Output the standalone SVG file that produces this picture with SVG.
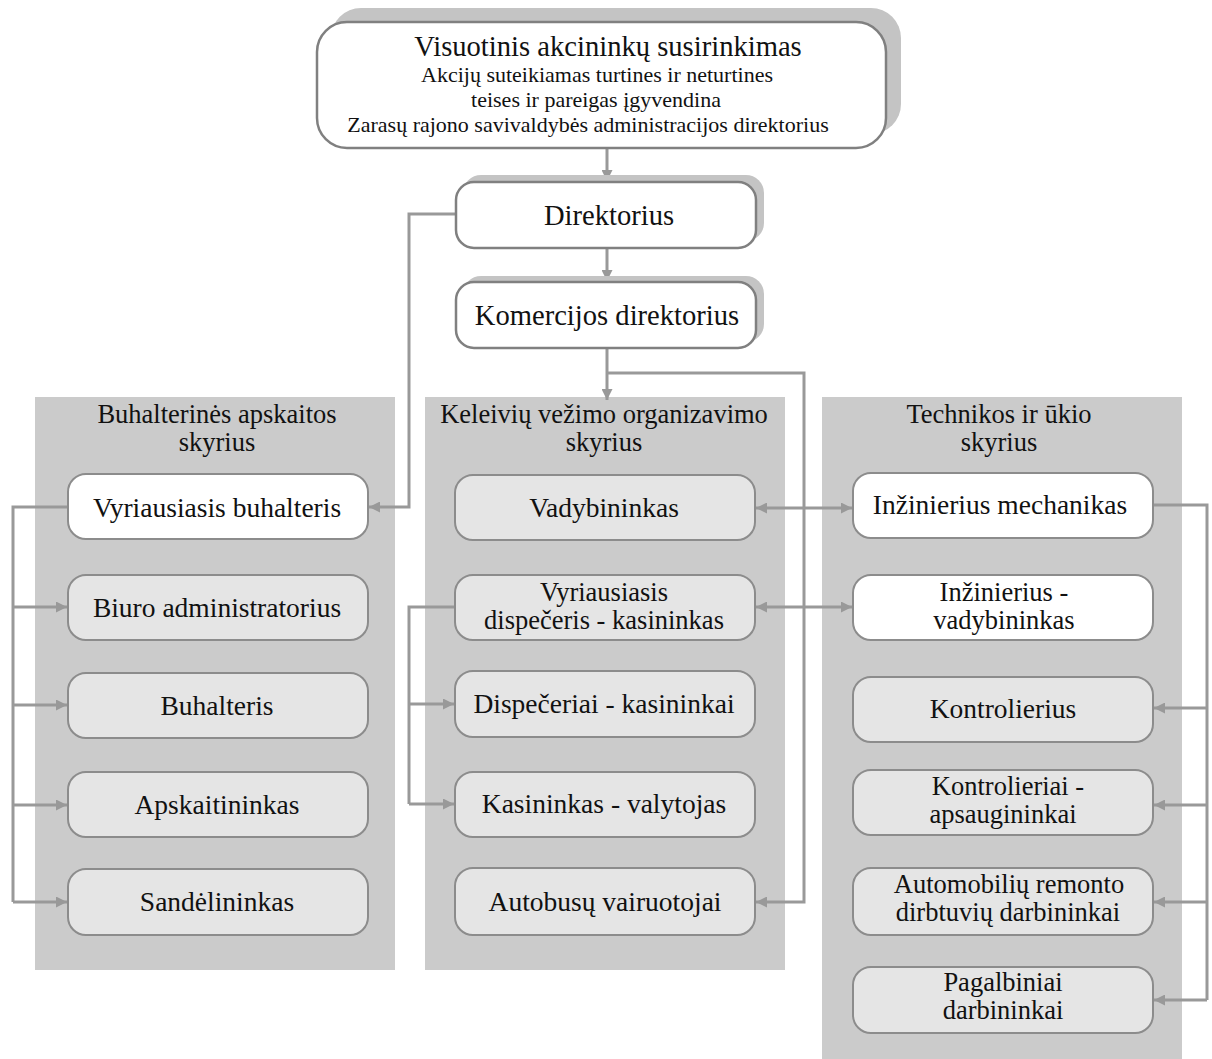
<svg xmlns="http://www.w3.org/2000/svg" width="1212" height="1059" viewBox="0 0 1212 1059">
<style>
text{font-family:"Liberation Serif","Times New Roman",serif;fill:#111;text-anchor:middle}
.t{font-size:27.5px}
.t2{font-size:26.5px}
.big{font-size:28.6px}
.sub{font-size:22px}
.panel{fill:#cbcbcb}
.shadow{fill:#c4c4c4}
.top{fill:#fff;stroke:#808080;stroke-width:2.5}
.w{fill:#fff;stroke:#8c8c8c;stroke-width:2}
.g{fill:#e5e5e5;stroke:#8c8c8c;stroke-width:2}
.c{fill:none;stroke:#999;stroke-width:3}
</style>
<defs>
<marker id="ah" viewBox="0 0 10 10" refX="10" refY="5" markerWidth="11" markerHeight="11" markerUnits="userSpaceOnUse" orient="auto-start-reverse">
<path d="M0,0 L10,5 L0,10 z" fill="#999"/>
</marker>
</defs>
<rect width="1212" height="1059" fill="#fff"/>
<g id="panels">
<g id="panel-buh"><rect class="panel" x="35" y="397" width="360" height="573"/>
<text class="t2"><tspan x="217" y="423">Buhalterinės apskaitos</tspan><tspan x="217" y="451">skyrius</tspan></text></g>
<g id="panel-kel"><rect class="panel" x="425" y="397" width="360" height="573"/>
<text class="t2"><tspan x="604" y="423">Keleivių vežimo organizavimo</tspan><tspan x="604" y="451">skyrius</tspan></text></g>
<g id="panel-tech"><rect class="panel" x="822" y="397" width="360" height="662"/>
<text class="t2"><tspan x="999" y="423">Technikos ir ūkio</tspan><tspan x="999" y="451">skyrius</tspan></text></g>
</g>
<g id="connectors">
<path class="c" d="M607,148 V181" marker-end="url(#ah)"/>
<path class="c" d="M607,248 V281" marker-end="url(#ah)"/>
<path class="c" d="M607,348 V400" marker-end="url(#ah)"/>
<path class="c" d="M607,373 H804 V902 H756" marker-end="url(#ah)"/>
<path class="c" d="M455,214 H409 V507 H369" marker-end="url(#ah)"/>
<path class="c" d="M68,507 H13 V902"/>
<path class="c" d="M13,607 H67" marker-end="url(#ah)"/>
<path class="c" d="M13,705 H67" marker-end="url(#ah)"/>
<path class="c" d="M13,805 H67" marker-end="url(#ah)"/>
<path class="c" d="M13,902 H67" marker-end="url(#ah)"/>
<path class="c" d="M455,607 H409 V804"/>
<path class="c" d="M409,704 H454" marker-end="url(#ah)"/>
<path class="c" d="M409,804 H454" marker-end="url(#ah)"/>
<path class="c" d="M1153,505 H1207 V1000"/>
<path class="c" d="M1207,708 H1154" marker-end="url(#ah)"/>
<path class="c" d="M1207,805 H1154" marker-end="url(#ah)"/>
<path class="c" d="M1207,902 H1154" marker-end="url(#ah)"/>
<path class="c" d="M1207,1000 H1154" marker-end="url(#ah)"/>
<path class="c" d="M756,508 H852" marker-start="url(#ah)" marker-end="url(#ah)"/>
<path class="c" d="M756,607 H852" marker-start="url(#ah)" marker-end="url(#ah)"/>
</g>
<g id="n-visuotinis">
<rect class="shadow" x="331" y="8" width="570" height="126" rx="30"/>
<rect class="top" x="317" y="22" width="569" height="126" rx="30"/>
<text><tspan class="big" x="608" y="56">Visuotinis akcininkų susirinkimas</tspan><tspan class="sub" x="597" y="82">Akcijų suteikiamas turtines ir neturtines</tspan><tspan class="sub" x="596" y="107">teises ir pareigas įgyvendina</tspan><tspan class="sub" x="588" y="132">Zarasų rajono savivaldybės administracijos direktorius</tspan></text>
</g>
<g id="n-direktorius">
<rect class="shadow" x="463" y="175" width="301" height="66" rx="18"/>
<rect class="top" x="456" y="182" width="300" height="66" rx="18"/>
<text class="big" x="609" y="225">Direktorius</text>
</g>
<g id="n-komercijos">
<rect class="shadow" x="463" y="276" width="301" height="66" rx="18"/>
<rect class="top" x="456" y="282" width="300" height="66" rx="18"/>
<text class="big" x="607" y="325">Komercijos direktorius</text>
</g>
<g id="n-vyr-buh"><rect class="w" x="68" y="474" width="300" height="65" rx="18"/><text class="t" x="217" y="517">Vyriausiasis buhalteris</text></g>
<g id="n-biuro"><rect class="g" x="68" y="575" width="300" height="65" rx="18"/><text class="t" x="217" y="617">Biuro administratorius</text></g>
<g id="n-buhalteris"><rect class="g" x="68" y="673" width="300" height="65" rx="18"/><text class="t" x="217" y="715">Buhalteris</text></g>
<g id="n-apskait"><rect class="g" x="68" y="772" width="300" height="65" rx="18"/><text class="t" x="217" y="814">Apskaitininkas</text></g>
<g id="n-sandel"><rect class="g" x="68" y="869" width="300" height="66" rx="18"/><text class="t" x="217" y="911">Sandėlininkas</text></g>
<g id="n-vadyb"><rect class="g" x="455" y="475" width="300" height="65" rx="18"/><text class="t" x="604" y="517">Vadybininkas</text></g>
<g id="n-vyr-disp"><rect class="g" x="455" y="575" width="300" height="65" rx="18"/><text class="t2"><tspan x="604" y="601">Vyriausiasis</tspan><tspan x="604" y="629">dispečeris - kasininkas</tspan></text></g>
<g id="n-disp"><rect class="g" x="455" y="671" width="300" height="66" rx="18"/><text class="t" x="604" y="713">Dispečeriai - kasininkai</text></g>
<g id="n-kasin"><rect class="g" x="455" y="772" width="300" height="65" rx="18"/><text class="t" x="604" y="813">Kasininkas - valytojas</text></g>
<g id="n-autob"><rect class="g" x="455" y="868" width="300" height="67" rx="18"/><text class="t" x="605" y="911">Autobusų vairuotojai</text></g>
<g id="n-inz-mech"><rect class="w" x="853" y="473" width="300" height="65" rx="18"/><text class="t" x="1000" y="514">Inžinierius mechanikas</text></g>
<g id="n-inz-vad"><rect class="w" x="853" y="575" width="300" height="65" rx="18"/><text class="t2"><tspan x="1004" y="601">Inžinierius -</tspan><tspan x="1004" y="629">vadybininkas</tspan></text></g>
<g id="n-kontr"><rect class="g" x="853" y="677" width="300" height="65" rx="18"/><text class="t" x="1003" y="718">Kontrolierius</text></g>
<g id="n-kontr-aps"><rect class="g" x="853" y="770" width="300" height="65" rx="18"/><text class="t2"><tspan x="1008" y="795">Kontrolieriai -</tspan><tspan x="1003" y="823">apsaugininkai</tspan></text></g>
<g id="n-auto"><rect class="g" x="853" y="868" width="300" height="67" rx="18"/><text class="t2"><tspan x="1009" y="893">Automobilių remonto</tspan><tspan x="1008" y="921">dirbtuvių darbininkai</tspan></text></g>
<g id="n-pagalb"><rect class="g" x="853" y="967" width="300" height="66" rx="18"/><text class="t2"><tspan x="1003" y="991">Pagalbiniai</tspan><tspan x="1003" y="1019">darbininkai</tspan></text></g>
</svg>
